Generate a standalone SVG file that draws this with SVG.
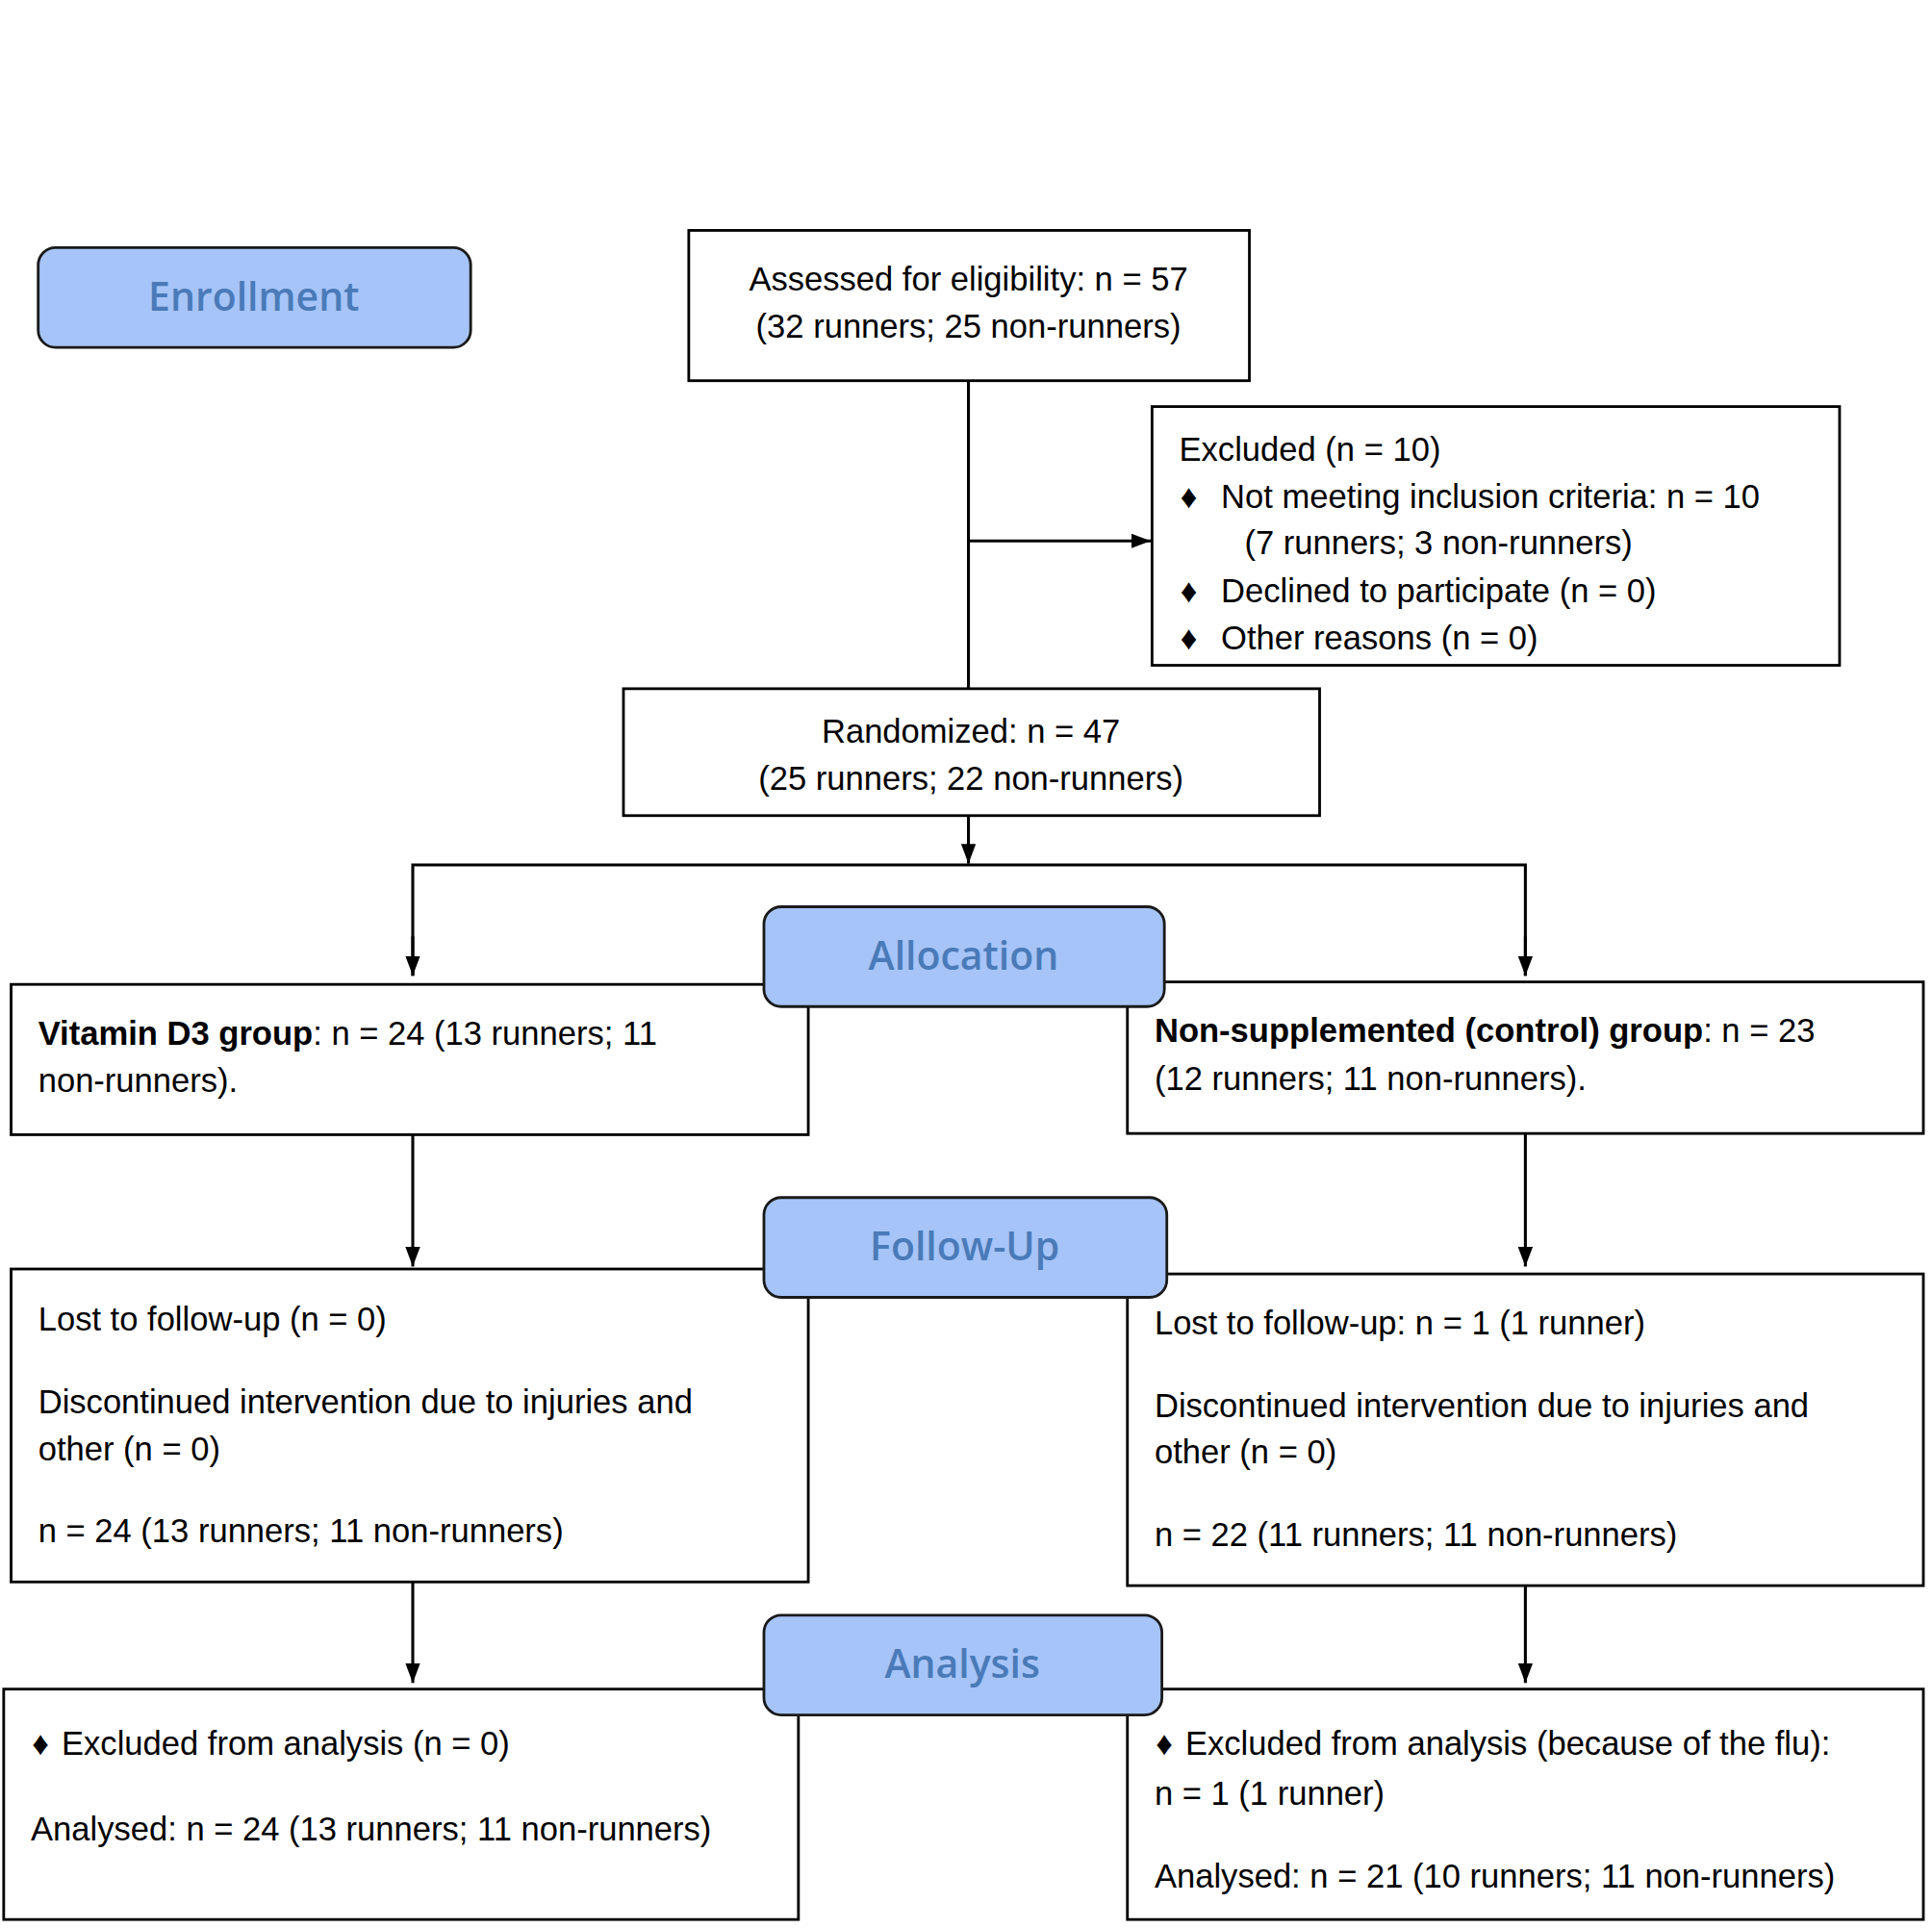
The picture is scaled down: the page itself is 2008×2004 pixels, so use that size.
<svg xmlns="http://www.w3.org/2000/svg" width="2008" height="2004" viewBox="0 0 2008 2004">
<style>
.box{fill:#fff;stroke:#000;stroke-width:2.2}
.stage{fill:#a6c4f7;stroke:#1a1a1a;stroke-width:2.2}
.st{font-family:"Open Sans","Liberation Sans",sans-serif;font-weight:600;font-size:32px;fill:#4a7ab8;text-anchor:middle}
.t{font-family:"Liberation Sans",Arial,sans-serif;font-size:27px;fill:#000}
.c{text-anchor:middle}
.ln{stroke:#000;stroke-width:2.4;fill:none}
</style>
<defs>
<marker id="ah" viewBox="0 0 10 10" refX="10" refY="5" markerWidth="6" markerHeight="6" markerUnits="userSpaceOnUse" orient="auto">
<path d="M0,0 L10,5 L0,10 Z" fill="#000"/>
</marker>
<marker id="a" viewBox="0 0 16 12" refX="16" refY="6" markerWidth="16" markerHeight="12" markerUnits="userSpaceOnUse" orient="auto">
<path d="M0,0 L16,6 L0,12 Z" fill="#000"/>
</marker>
</defs>
<rect width="2008" height="2004" fill="#fff"/>
<g transform="scale(1.2806)">
<g id="connectors">
<line class="ln" x1="786" y1="309" x2="786" y2="559"/>
<line class="ln" x1="786" y1="439" x2="934" y2="439" marker-end="url(#a)"/>
<line class="ln" x1="786" y1="662" x2="786" y2="701" marker-end="url(#a)"/>
<polyline class="ln" points="335,792 335,702 1238,702 1238,792"/>
<line class="ln" x1="335" y1="760" x2="335" y2="792" marker-end="url(#a)"/>
<line class="ln" x1="1238" y1="760" x2="1238" y2="792" marker-end="url(#a)"/>
<line class="ln" x1="335" y1="921" x2="335" y2="1028" marker-end="url(#a)"/>
<line class="ln" x1="1238" y1="920" x2="1238" y2="1028" marker-end="url(#a)"/>
<line class="ln" x1="335" y1="1284" x2="335" y2="1366" marker-end="url(#a)"/>
<line class="ln" x1="1238" y1="1287" x2="1238" y2="1366" marker-end="url(#a)"/>
</g>
<g id="assessed"><rect class="box" x="559" y="187" width="455" height="122"/>
<text class="t c" x="786" y="236">Assessed for eligibility: n = 57</text>
<text class="t c" x="786" y="274">(32 runners; 25 non-runners)</text></g>
<g id="excluded"><rect class="box" x="935" y="330" width="558" height="210"/>
<text class="t" x="957" y="374">Excluded (n = 10)</text>
<text class="t" x="958" y="412" font-size="20">♦</text><text class="t" x="991" y="412">Not meeting inclusion criteria: n = 10</text>
<text class="t" x="1010" y="450">(7 runners; 3 non-runners)</text>
<text class="t" x="958" y="489" font-size="20">♦</text><text class="t" x="991" y="489">Declined to participate (n = 0)</text>
<text class="t" x="958" y="527" font-size="20">♦</text><text class="t" x="991" y="527">Other reasons (n = 0)</text></g>
<g id="randomized"><rect class="box" x="506" y="559" width="565" height="103"/>
<text class="t c" x="788" y="603">Randomized: n = 47</text>
<text class="t c" x="788" y="641">(25 runners; 22 non-runners)</text></g>
<g id="vitd"><rect class="box" x="9" y="799" width="647" height="122"/>
<text class="t" x="31" y="848"><tspan font-weight="bold">Vitamin D3 group</tspan>: n = 24 (13 runners; 11</text>
<text class="t" x="31" y="886">non-runners).</text></g>
<g id="control"><rect class="box" x="915" y="797" width="646" height="123"/>
<text class="t" x="937" y="846"><tspan font-weight="bold">Non-supplemented (control) group</tspan>: n = 23</text>
<text class="t" x="937" y="885">(12 runners; 11 non-runners).</text></g>
<g id="fu-left"><rect class="box" x="9" y="1030" width="647" height="254"/>
<text class="t" x="31" y="1080">Lost to follow-up (n = 0)</text>
<text class="t" x="31" y="1147">Discontinued intervention due to injuries and</text>
<text class="t" x="31" y="1185">other (n = 0)</text>
<text class="t" x="31" y="1252">n = 24 (13 runners; 11 non-runners)</text></g>
<g id="fu-right"><rect class="box" x="915" y="1034" width="646" height="253"/>
<text class="t" x="937" y="1083">Lost to follow-up: n = 1 (1 runner)</text>
<text class="t" x="937" y="1150">Discontinued intervention due to injuries and</text>
<text class="t" x="937" y="1188">other (n = 0)</text>
<text class="t" x="937" y="1255">n = 22 (11 runners; 11 non-runners)</text></g>
<g id="an-left"><rect class="box" x="3" y="1371" width="645" height="187"/>
<text class="t" x="26" y="1424" font-size="20">♦</text><text class="t" x="50" y="1424">Excluded from analysis (n = 0)</text>
<text class="t" x="25" y="1494">Analysed: n = 24 (13 runners; 11 non-runners)</text></g>
<g id="an-right"><rect class="box" x="915" y="1371" width="646" height="187"/>
<text class="t" x="938" y="1424" font-size="20">♦</text><text class="t" x="962" y="1424">Excluded from analysis (because of the flu):</text>
<text class="t" x="937" y="1465">n = 1 (1 runner)</text>
<text class="t" x="937" y="1532">Analysed: n = 21 (10 runners; 11 non-runners)</text></g>
<g id="enrollment"><rect class="stage" x="31" y="201" width="351" height="81" rx="14"/><text class="st" x="206" y="252">Enrollment</text></g>
<g id="allocation"><rect class="stage" x="620" y="736" width="325" height="81" rx="14"/><text class="st" x="782" y="787">Allocation</text></g>
<g id="followup"><rect class="stage" x="620" y="972" width="327" height="81" rx="14"/><text class="st" x="783" y="1023">Follow-Up</text></g>
<g id="analysis"><rect class="stage" x="620" y="1311" width="323" height="81" rx="14"/><text class="st" x="781" y="1362">Analysis</text></g>
</g>
</svg>
